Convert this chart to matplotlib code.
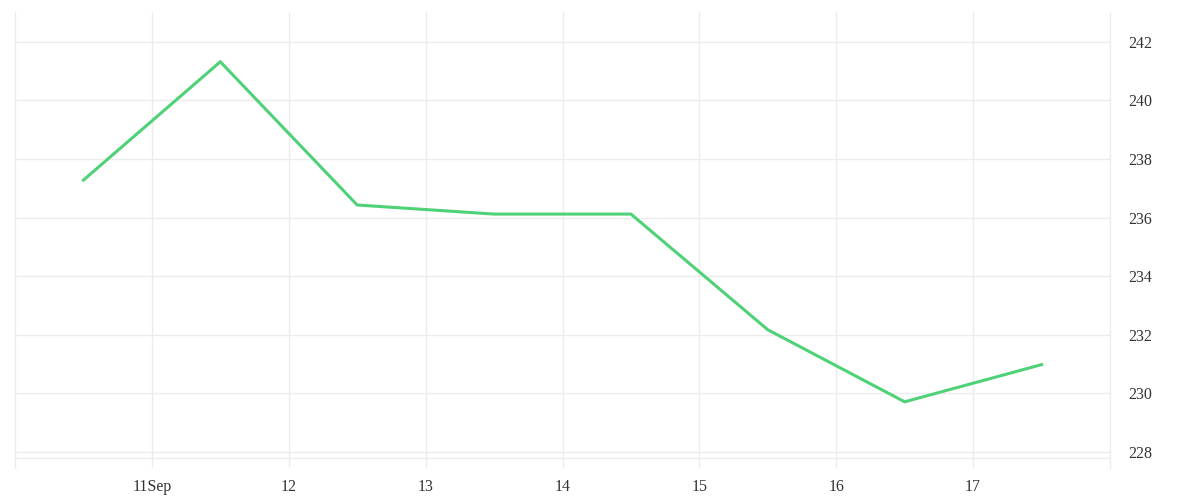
import numpy as np
import pandas as pd
import matplotlib
matplotlib.use("Agg")
import matplotlib.pyplot as plt
import matplotlib.dates as mdates

# data (points sit at mid-day)
dates = pd.to_datetime(["2023-09-10 12:00", "2023-09-11 12:00", "2023-09-12 12:00",
                        "2023-09-13 12:00", "2023-09-14 12:00", "2023-09-15 12:00",
                        "2023-09-16 12:00", "2023-09-17 12:00"])
values = [237.28, 241.32, 236.43, 236.12, 236.12, 232.17, 229.71, 230.98]
yticks = [228, 230, 232, 234, 236, 238, 240, 242]
xtick_days = pd.to_datetime(["2023-09-11", "2023-09-12", "2023-09-13", "2023-09-14",
                             "2023-09-15", "2023-09-16", "2023-09-17"])
xtick_labels = ["11Sep", "12", "13", "14", "15", "16", "17"]

plt.rcParams["font.family"] = ["Liberation Serif", "DejaVu Serif"]
grid_c = "#ececec"

fig = plt.figure(figsize=(12, 5), dpi=100)
ax = fig.add_axes([15 / 1200, 1 - 468 / 500, 1095 / 1200, 456 / 500])

ax.plot(dates, values, color="#4fd277", lw=2.2, solid_joinstyle="miter")

ax.set_xlim(pd.Timestamp("2023-09-10"), pd.Timestamp("2023-09-18"))
ax.set_ylim(227.45, 243.02)

ax.yaxis.tick_right()
ax.set_yticks(yticks)
ax.set_yticklabels([str(v) for v in yticks])
ax.set_xticks(xtick_days)
ax.set_xticklabels(xtick_labels)
ax.tick_params(axis="both", length=0, labelsize=11.5, colors="#333333")
ax.tick_params(axis="y", pad=13)
ax.tick_params(axis="x", pad=8)

ax.grid(True, color=grid_c, lw=1)
ax.set_axisbelow(True)
ax.axhline(227.8, color=grid_c, lw=1, zorder=0)

for side in ["top", "bottom"]:
    ax.spines[side].set_visible(False)
for side in ["left", "right"]:
    ax.spines[side].set_color(grid_c)
    ax.spines[side].set_linewidth(1)

fig.savefig("out.png", dpi=100)
